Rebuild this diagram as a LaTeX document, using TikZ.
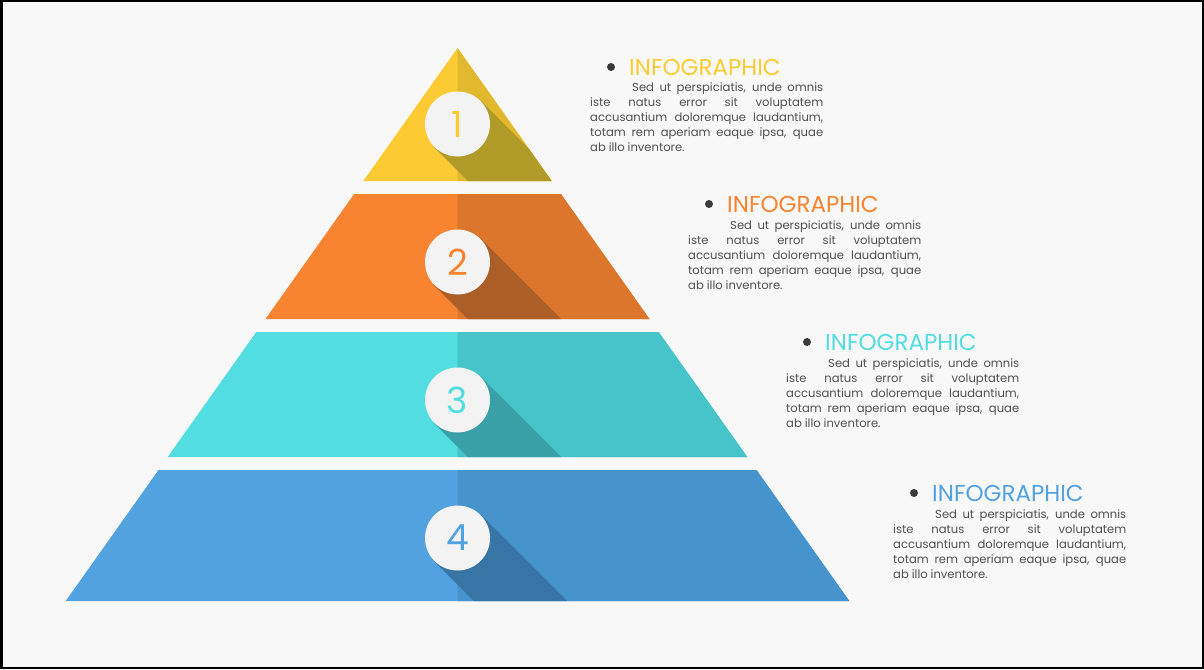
\documentclass[tikz,border=0pt]{standalone}
\usepackage{fontspec}
\setmainfont{Poppins}
\usetikzlibrary{positioning}

\definecolor{bgc}{HTML}{F8F8F8}
\definecolor{txt}{HTML}{3A3A3A}
\definecolor{para}{HTML}{505050}
\definecolor{disc}{HTML}{F3F3F3}
\definecolor{yelA}{HTML}{FCCB33}
\definecolor{yelB}{HTML}{E2B92E}
\definecolor{yelS}{HTML}{B09A28}
\definecolor{oraA}{HTML}{F88331}
\definecolor{oraB}{HTML}{DC762D}
\definecolor{oraS}{HTML}{AB5E27}
\definecolor{cyaA}{HTML}{52DDE1}
\definecolor{cyaB}{HTML}{46C4CA}
\definecolor{cyaS}{HTML}{38A0A6}
\definecolor{bluA}{HTML}{52A2DF}
\definecolor{bluB}{HTML}{4794CD}
\definecolor{bluS}{HTML}{3776A4}

\newcommand{\loremtext}{%
\spaceskip=0.25em plus 3em\relax
\makebox[233pt][s]{\hspace*{42pt}Sed ut perspiciatis, unde omnis}\\
\makebox[233pt][s]{iste natus error sit voluptatem}\\
\makebox[233pt][s]{accusantium doloremque laudantium,}\\
\makebox[233pt][s]{totam rem aperiam eaque ipsa, quae}\\
\mbox{ab illo inventore.}}

\begin{document}
\begin{tikzpicture}[x=1pt,y=-1pt,
  numdisc/.style={circle,fill=disc,minimum size=65pt,inner sep=0pt,
    font=\fontsize{36}{36}\selectfont},
  bullet/.style={circle,fill=txt,minimum size=8pt,inner sep=0pt},
  heading/.style={anchor=west,inner sep=0pt,font=\fontsize{23}{23}\selectfont},
  lorem/.style={anchor=north west,inner sep=0pt,text width=233pt,align=left,
    text=para,font=\fontsize{11.6}{15}\selectfont}]
\useasboundingbox (0,0) rectangle (1204,669);
\fill[bgc] (0,0) rectangle (1204,669);
\draw[line width=2.5pt] (1.25,1.25) rectangle (1202.75,667.75);

% tier 1
\fill[yelA] (457.5,48) -- (551.7,181) -- (363.3,181) -- cycle;
\fill[yelB] (457.5,48) -- (551.7,181) -- (457.5,181) -- cycle;
\begin{scope}
\clip (457.5,48) -- (551.7,181) -- (363.3,181) -- cycle;
\fill[yelS] (480.8,100.7) -- ++(300,300) -- ++(-46.6,46.6) -- ++(-300,-300) -- cycle;
\end{scope}
\node[numdisc,text=yelA] (n1) at (457.5,124) {1};

% tier 2
\fill[oraA] (354.1,194) -- (560.9,194) -- (649.5,319) -- (265.5,319) -- cycle;
\fill[oraB] (457.5,194) -- (560.9,194) -- (649.5,319) -- (457.5,319) -- cycle;
\begin{scope}
\clip (354.1,194) -- (560.9,194) -- (649.5,319) -- (265.5,319) -- cycle;
\fill[oraS] (480.8,238.7) -- ++(300,300) -- ++(-46.6,46.6) -- ++(-300,-300) -- cycle;
\end{scope}
\node[numdisc,text=oraA] (n2) at (457.5,262) {2};

% tier 3
\fill[cyaA] (256.3,332) -- (658.7,332) -- (747.3,457) -- (167.7,457) -- cycle;
\fill[cyaB] (457.5,332) -- (658.7,332) -- (747.3,457) -- (457.5,457) -- cycle;
\begin{scope}
\clip (256.3,332) -- (658.7,332) -- (747.3,457) -- (167.7,457) -- cycle;
\fill[cyaS] (480.8,376.7) -- ++(300,300) -- ++(-46.6,46.6) -- ++(-300,-300) -- cycle;
\end{scope}
\node[numdisc,text=cyaA] (n3) at (457.5,400) {3};

% tier 4
\fill[bluA] (158.5,470) -- (756.5,470) -- (849.3,601) -- (65.7,601) -- cycle;
\fill[bluB] (457.5,470) -- (756.5,470) -- (849.3,601) -- (457.5,601) -- cycle;
\begin{scope}
\clip (158.5,470) -- (756.5,470) -- (849.3,601) -- (65.7,601) -- cycle;
\fill[bluS] (480.8,514.7) -- ++(300,300) -- ++(-46.6,46.6) -- ++(-300,-300) -- cycle;
\end{scope}
\node[numdisc,text=bluA] (n4) at (457.5,538) {4};

% labels
\node[bullet] (b1) at (611,67) {};
\node[heading,text=yelA,right=18pt of b1.center] (h1) {INFOGRAPHIC};
\node[lorem] (t1) at (590,82) {\loremtext};

\node[bullet] (b2) at (709,204) {};
\node[heading,text=oraA,right=18pt of b2.center] (h2) {INFOGRAPHIC};
\node[lorem] (t2) at (688,220) {\loremtext};

\node[bullet] (b3) at (807,342) {};
\node[heading,text=cyaA,right=18pt of b3.center] (h3) {INFOGRAPHIC};
\node[lorem] (t3) at (786,358) {\loremtext};

\node[bullet] (b4) at (914,493) {};
\node[heading,text=bluA,right=18pt of b4.center] (h4) {INFOGRAPHIC};
\node[lorem] (t4) at (893,509) {\loremtext};
\end{tikzpicture}
\end{document}
